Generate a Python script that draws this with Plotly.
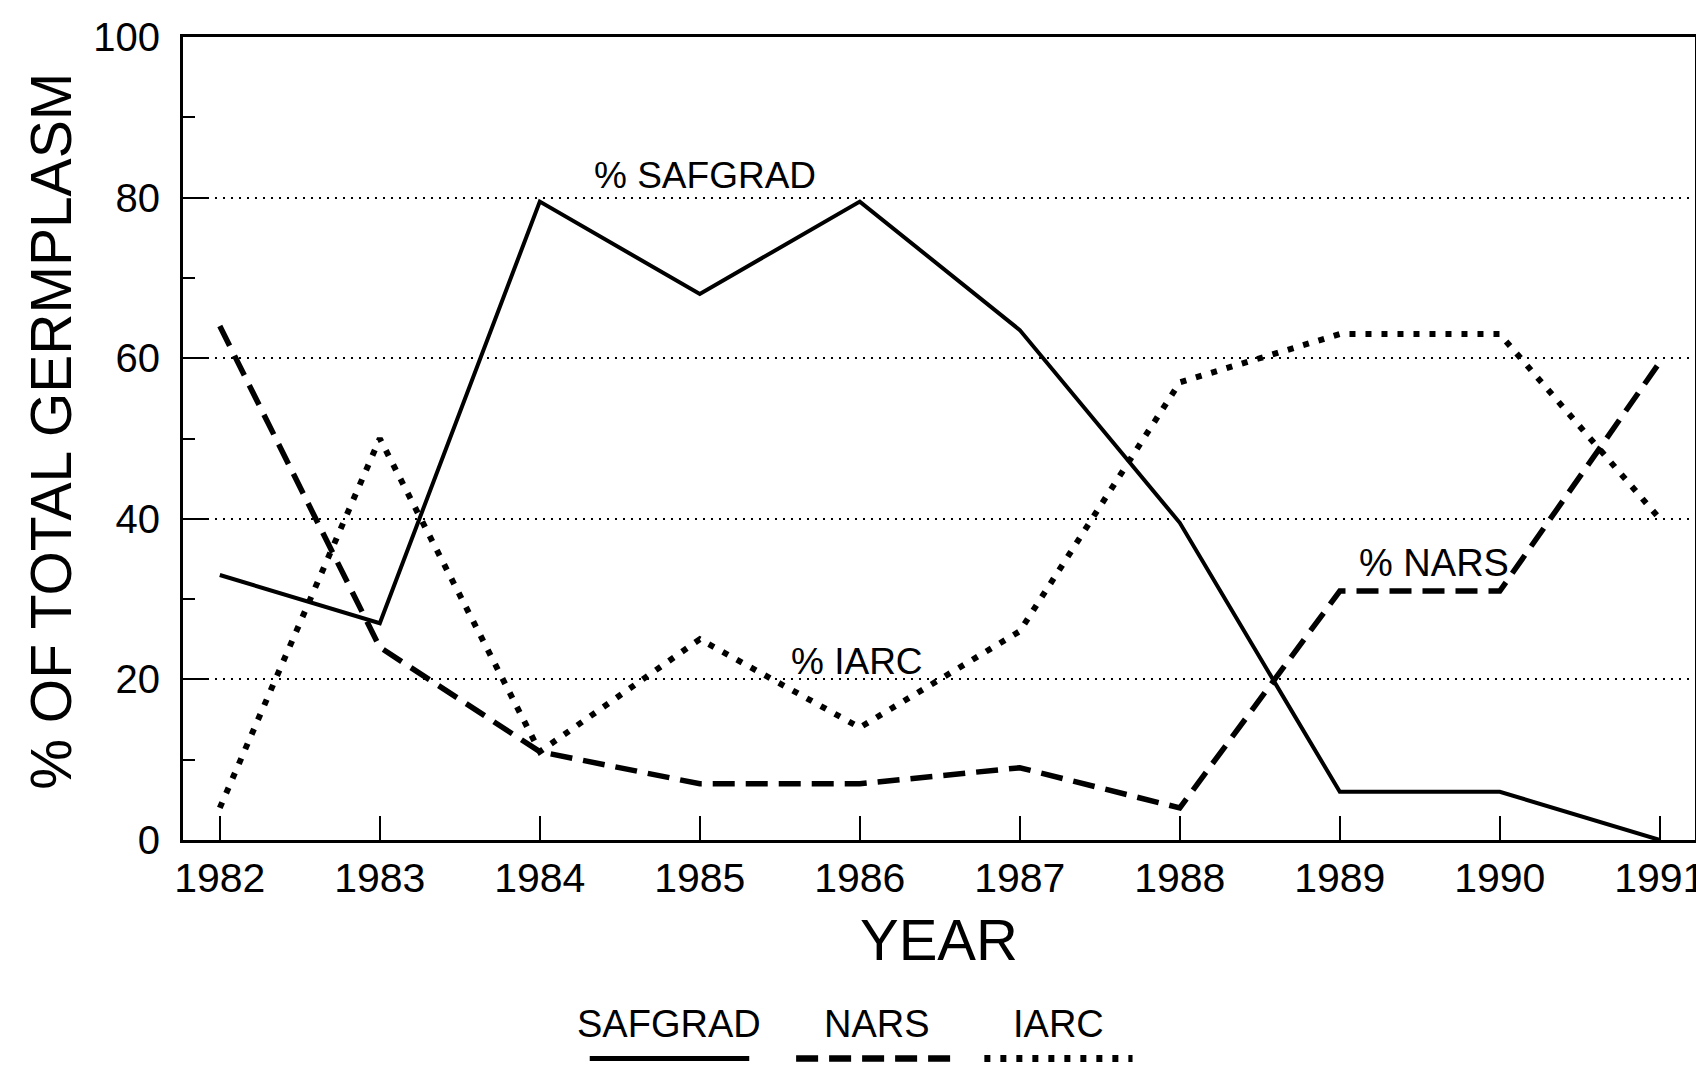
import plotly.graph_objects as go

years = [1982, 1983, 1984, 1985, 1986, 1987, 1988, 1989, 1990, 1991]
safgrad = [33, 27, 79.5, 68, 79.5, 63.5, 39.5, 6, 6, 0]
nars = [64, 24, 11, 7, 7, 9, 4, 31, 31, 59.5]
iarc = [4, 50, 11, 25, 14, 26, 57, 63, 63, 40]

series_names = ["SAFGRAD", "NARS", "IARC"]
series_values = [safgrad, nars, iarc]
series_dash = ["solid", "22px,11px", "6px,10px"]
series_width = [4, 5.5, 6]

labels_text = ["% SAFGRAD", "% IARC", "% NARS"]
labels_x = [1985.03, 1985.98, 1989.59]
labels_y = [82.8, 22.2, 34.5]
labels_size = [37, 37, 38]

FONT = "Liberation Sans, Arial, Helvetica, sans-serif"

fig = go.Figure()
for name, vals, dash, w in zip(series_names, series_values, series_dash, series_width):
    fig.add_trace(go.Scatter(
        x=years, y=vals, mode="lines", name=name,
        line=dict(color="black", width=w, dash=dash),
        showlegend=False,
    ))

for t, x, y, s in zip(labels_text, labels_x, labels_y, labels_size):
    fig.add_annotation(x=x, y=y, text=t, showarrow=False,
                       font=dict(size=s, color="black", family=FONT),
                       xanchor="center", yanchor="middle")

# axis titles
fig.add_annotation(xref="paper", yref="paper", x=0.5, y=-0.124, text="YEAR",
                   showarrow=False, font=dict(size=58, color="black", family=FONT),
                   xanchor="center", yanchor="middle")
fig.add_annotation(xref="paper", yref="paper", x=-0.087, y=0.509,
                   text="% OF TOTAL GERMPLASM", textangle=-90,
                   showarrow=False, font=dict(size=57, color="black", family=FONT),
                   xanchor="center", yanchor="middle")

# custom legend: label above a sample of the line style
legend_x0 = [0.269, 0.4055, 0.530]
legend_x1 = [0.3745, 0.5130, 0.628]
for name, dash, w, x0, x1 in zip(series_names, series_dash, series_width, legend_x0, legend_x1):
    fig.add_shape(type="line", xref="paper", yref="paper", x0=x0, x1=x1,
                  y0=-0.272, y1=-0.272,
                  line=dict(color="black", width=w + 1, dash=dash))
    fig.add_annotation(xref="paper", yref="paper", x=(x0 + x1) / 2, y=-0.229,
                       text=name, showarrow=False,
                       font=dict(size=38, color="black", family=FONT),
                       xanchor="center", yanchor="middle")

fig.update_xaxes(
    range=[1981.77, 1991.22],
    tickmode="array", tickvals=years, ticktext=[str(y) for y in years],
    ticks="inside", ticklen=24, tickwidth=2, tickcolor="black",
    showline=True, linewidth=3, linecolor="black", mirror=True,
    showgrid=False, zeroline=False,
    tickfont=dict(size=41, color="black", family=FONT),
    ticklabelstandoff=0, ticklabeloverflow="allow",
)
fig.update_yaxes(
    range=[0, 100], dtick=20, tick0=0,
    ticks="inside", ticklen=24, tickwidth=2, tickcolor="black",
    minor=dict(dtick=10, ticks="inside", ticklen=12, tickwidth=2, tickcolor="black", showgrid=False),
    showline=True, linewidth=3, linecolor="black", mirror=True,
    showgrid=True, gridcolor="black", gridwidth=2, griddash="2px,6px",
    zeroline=False,
    tickfont=dict(size=40, color="black", family=FONT),
    ticklabelstandoff=12, ticklabeloverflow="allow",
)

fig.update_layout(
    width=1704, height=1072,
    margin=dict(l=175, r=7, t=20, b=240),
    paper_bgcolor="white", plot_bgcolor="white",
    font=dict(family=FONT, color="black"),
)

fig.write_html("out.html")
